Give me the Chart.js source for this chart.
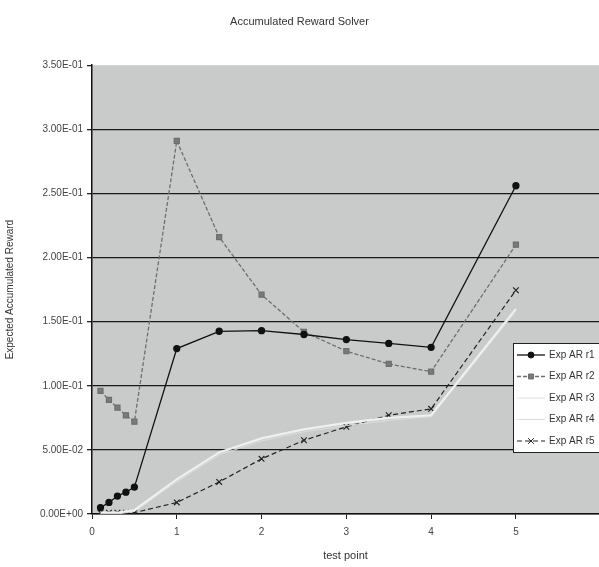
<!DOCTYPE html>
<html lang="en">
<head>
  <meta charset="UTF-8">
  <title>Accumulated Reward Solver</title>
  <script src="https://cdn.jsdelivr.net/npm/chart.js"></script>
  <style>
    body { margin: 0; background: #ffffff; }
    .chart-box { width: 599px; height: 567px; position: relative; }
  </style>
</head>
<body>
<div class="chart-box">
  <canvas id="rewardChart"></canvas>
</div>
<script>
  // test points and series values
  const testPoints = [0.1, 0.2, 0.3, 0.4, 0.5, 1, 1.5, 2, 2.5, 3, 3.5, 4, 5];
  const r1 = [0.005, 0.009, 0.014, 0.017, 0.021, 0.129, 0.1425, 0.143, 0.140, 0.136, 0.133, 0.130, 0.256];
  const r2 = [0.096, 0.089, 0.083, 0.077, 0.072, 0.291, 0.216, 0.171, 0.142, 0.127, 0.117, 0.111, 0.210];
  const r3 = [0.001, 0.001, 0.001, 0.002, 0.003, 0.027, 0.048, 0.059, 0.066, 0.071, 0.075, 0.077, 0.160];
  const r4 = [0.000, 0.000, 0.000, 0.001, 0.002, 0.025, 0.046, 0.057, 0.064, 0.069, 0.073, 0.076, 0.158];
  const r5 = [0.001, 0.001, 0.001, 0.001, 0.001, 0.009, 0.025, 0.043, 0.0575, 0.068, 0.077, 0.082, 0.1745];
  const seriesLabels = ['Exp AR r1', 'Exp AR r2', 'Exp AR r3', 'Exp AR r4', 'Exp AR r5'];
  const yTicks = [0, 0.05, 0.1, 0.15, 0.2, 0.25, 0.3, 0.35];
  const xTicks = [0, 1, 2, 3, 4, 5];

  const FONT = '"Liberation Sans", Arial, sans-serif';
  const pts = vals => testPoints.map((x, i) => ({ x: x, y: vals[i] }));

  // 3.50E-01 style labels
  function sci(v) {
    if (v === 0) return '0.00E+00';
    const parts = v.toExponential(2).split('e');
    const e = parseInt(parts[1], 10);
    return parts[0] + 'E' + (e < 0 ? '-' : '+') + String(Math.abs(e)).padStart(2, '0');
  }

  // gray plot background
  const plotBg = {
    id: 'plotBg',
    beforeDraw(chart) {
      const a = chart.chartArea, c = chart.ctx;
      c.save();
      c.fillStyle = '#c9cbcb';
      c.fillRect(a.left, a.top, a.right - a.left, a.bottom - a.top);
      c.restore();
    }
  };

  // legend box inside the plot, right side
  const boxLegend = {
    id: 'boxLegend',
    afterDatasetsDraw(chart) {
      const c = chart.ctx;
      const x0 = 513, y0 = 343;
      c.save();
      c.fillStyle = '#ffffff';
      c.fillRect(x0, y0, 100, 109);
      c.strokeStyle = '#222';
      c.lineWidth = 1;
      c.strokeRect(x0 + 0.5, y0 + 0.5, 100, 109);
      chart.data.datasets.forEach((ds, i) => {
        const y = y0 + 12 + i * 21.5;
        c.strokeStyle = ds.borderColor;
        c.lineWidth = ds.borderWidth;
        c.setLineDash(ds.borderDash || []);
        c.beginPath();
        c.moveTo(x0 + 4, y);
        c.lineTo(x0 + 32, y);
        c.stroke();
        c.setLineDash([]);
        if (ds.pointRadius > 0) {
          c.fillStyle = ds.backgroundColor;
          c.strokeStyle = ds.borderColor;
          c.lineWidth = 1;
          Chart.helpers.drawPoint(c, {
            pointStyle: ds.pointStyle, radius: ds.pointRadius, borderWidth: 1
          }, x0 + 18, y);
        }
        c.fillStyle = '#333';
        c.font = '10px ' + FONT;
        c.textBaseline = 'middle';
        c.fillText(ds.label, x0 + 36, y);
      });
      c.restore();
    }
  };

  const ctx = document.getElementById('rewardChart').getContext('2d');
  const rewardChart = new Chart(ctx, {
    type: 'scatter',
    data: {
      datasets: [
        { label: seriesLabels[0], data: pts(r1), showLine: true, borderColor: '#111', backgroundColor: '#111',
          borderWidth: 1.3, pointStyle: 'circle', pointRadius: 3 },
        { label: seriesLabels[1], data: pts(r2), showLine: true, borderColor: '#6e6e6e', backgroundColor: '#7a7a7a',
          borderWidth: 1.3, borderDash: [4, 2], pointStyle: 'rect', pointRadius: 3.5 },
        { label: seriesLabels[2], data: pts(r3), showLine: true, borderColor: '#efefef', backgroundColor: '#efefef',
          borderWidth: 2.2, pointStyle: 'circle', pointRadius: 0 },
        { label: seriesLabels[3], data: pts(r4), showLine: true, borderColor: '#dcdcdc', backgroundColor: '#dcdcdc',
          borderWidth: 1, pointStyle: 'circle', pointRadius: 0 },
        { label: seriesLabels[4], data: pts(r5), showLine: true, borderColor: '#222', backgroundColor: '#222',
          borderWidth: 1.2, borderDash: [5, 3], pointStyle: 'crossRot', pointRadius: 4 }
      ]
    },
    options: {
      responsive: true,
      maintainAspectRatio: false,
      animation: false,
      layout: { padding: 0, autoPadding: false },
      plugins: {
        legend: { display: false },
        tooltip: { enabled: false },
        title: {
          display: true,
          text: 'Accumulated Reward Solver',
          color: '#333',
          font: { family: FONT, size: 11, weight: 'normal' },
          padding: { top: 15, bottom: 37 }
        }
      },
      scales: {
        x: {
          type: 'linear',
          min: 0,
          max: 5.98,
          afterBuildTicks: axis => { axis.ticks = xTicks.map(v => ({ value: v })); },
          ticks: {
            color: '#444',
            font: { family: FONT, size: 10 },
            padding: 7,
            maxRotation: 0,
            callback: v => String(v)
          },
          grid: { drawOnChartArea: false, drawTicks: true, tickLength: 5, color: '#222' },
          border: { color: '#111', width: 1.5 },
          title: {
            display: true, text: 'test point', color: '#333',
            font: { family: FONT, size: 11 },
            padding: { top: 6 }
          },
          afterFit: s => { s.height = 53; s.paddingRight = 0; s.paddingLeft = 0; }
        },
        y: {
          type: 'linear',
          min: 0,
          max: 0.35,
          afterBuildTicks: axis => { axis.ticks = yTicks.map(v => ({ value: v })); },
          ticks: {
            color: '#444',
            font: { family: FONT, size: 10 },
            padding: 4,
            callback: v => sci(v)
          },
          grid: {
            color: ctx => (ctx.tick && ctx.tick.value >= 0.35 ? 'rgba(0,0,0,0)' : '#1a1a1a'),
            lineWidth: 1.3,
            tickLength: 5,
            tickColor: '#222'
          },
          border: { color: '#111', width: 1.5 },
          title: {
            display: true, text: 'Expected Accumulated Reward', color: '#333',
            font: { family: FONT, size: 10 },
            padding: { bottom: 2 }
          },
          afterFit: s => { s.width = 92; s.paddingTop = 0; s.paddingBottom = 0; }
        }
      }
    },
    plugins: [plotBg, boxLegend]
  });
</script>
</body>
</html>
